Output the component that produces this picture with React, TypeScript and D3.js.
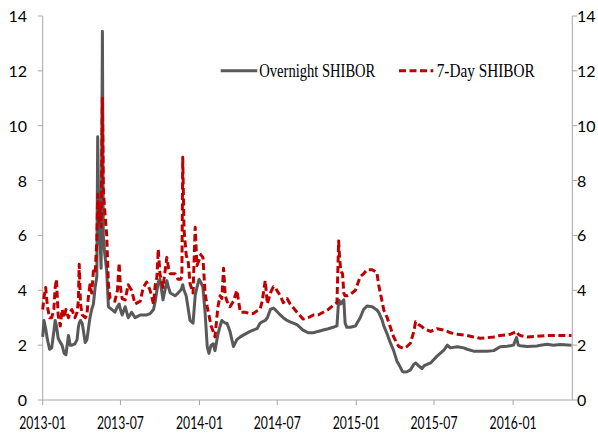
import React from "react";
import * as d3 from "d3";

const dates: string[] = [
  "2013-01-01","2013-01-04","2013-01-08","2013-01-12","2013-01-17","2013-01-22","2013-01-27","2013-01-30",
  "2013-02-02","2013-02-06","2013-02-11","2013-02-15","2013-02-20","2013-02-24","2013-03-02","2013-03-06",
  "2013-03-10","2013-03-17","2013-03-22","2013-03-25","2013-03-27","2013-03-30","2013-04-03","2013-04-10",
  "2013-04-14","2013-04-17","2013-04-21","2013-04-25","2013-04-29","2013-05-03","2013-05-07","2013-05-09",
  "2013-05-12","2013-05-15","2013-05-17","2013-05-20","2013-05-22","2013-05-25","2013-05-30","2013-06-03",
  "2013-06-07","2013-06-11","2013-06-18","2013-06-24","2013-06-28","2013-07-01","2013-07-05","2013-07-12",
  "2013-07-19","2013-07-27","2013-08-04","2013-08-10","2013-08-16","2013-08-23","2013-08-31","2013-09-08",
  "2013-09-16","2013-09-20","2013-09-24","2013-09-27","2013-10-01","2013-10-08","2013-10-17","2013-10-21",
  "2013-10-25","2013-11-05","2013-11-12","2013-11-18","2013-11-21","2013-11-23","2013-11-26","2013-12-01",
  "2013-12-06","2013-12-10","2013-12-17","2013-12-22","2013-12-26","2013-12-31","2014-01-04","2014-01-09",
  "2014-01-14","2014-01-19","2014-01-23","2014-01-28","2014-02-02","2014-02-06","2014-02-13","2014-02-18",
  "2014-02-22","2014-02-26","2014-03-02","2014-03-06","2014-03-13","2014-03-21","2014-03-29","2014-04-06",
  "2014-04-17","2014-04-29","2014-05-06","2014-05-15","2014-05-22","2014-05-27","2014-06-03","2014-06-08",
  "2014-06-15","2014-06-22","2014-06-26","2014-07-08","2014-07-15","2014-07-24","2014-07-31","2014-08-16",
  "2014-08-30","2014-09-11","2014-09-23","2014-10-04","2014-10-16","2014-10-28","2014-11-08","2014-11-17",
  "2014-11-21","2014-11-23","2014-11-26","2014-11-30","2014-12-03","2014-12-06","2014-12-10","2014-12-18",
  "2014-12-30","2015-01-10","2015-01-18","2015-01-26","2015-02-07","2015-02-18","2015-02-22","2015-03-02",
  "2015-03-06","2015-03-14","2015-03-21","2015-03-29","2015-04-06","2015-04-10","2015-04-18","2015-04-21",
  "2015-04-29","2015-05-07","2015-05-15","2015-05-19","2015-05-26","2015-06-03","2015-06-08","2015-06-23",
  "2015-07-08","2015-07-24","2015-08-01","2015-08-08","2015-08-24","2015-09-08","2015-09-16","2015-10-01",
  "2015-10-17","2015-11-01","2015-11-17","2015-12-02","2015-12-18","2015-12-26","2016-01-02","2016-01-09",
  "2016-01-13","2016-01-18","2016-02-03","2016-02-26","2016-03-05","2016-03-20","2016-04-04","2016-04-20",
  "2016-05-16"
];

const overnight: number[] = [
  2.3,2.9,2.6,2.2,1.85,1.9,2.5,2.9,
  2.7,2.25,2.1,2.0,1.7,1.65,2.35,2.0,
  2.0,2.05,2.2,2.65,2.8,2.9,2.8,2.1,
  2.2,2.55,3.0,3.3,3.5,4.1,4.5,9.6,
  6.3,5.6,4.8,13.44,6.0,5.4,4.7,3.4,
  3.35,3.3,3.2,3.4,3.5,3.3,3.1,3.4,
  3.0,3.2,3.0,3.05,3.1,3.1,3.1,3.15,
  3.3,3.6,4.0,4.3,4.4,3.65,4.35,4.1,
  3.9,3.8,3.9,4.0,4.1,4.2,4.0,3.8,
  3.3,2.9,2.8,3.8,4.1,4.4,4.3,4.1,
  3.2,1.95,1.7,2.0,2.05,1.8,2.4,2.7,
  2.9,2.85,2.8,2.8,2.5,1.95,2.2,2.3,
  2.4,2.5,2.55,2.6,2.8,2.85,2.9,3.0,
  3.3,3.35,3.3,3.1,3.0,2.9,2.85,2.75,
  2.55,2.45,2.45,2.5,2.55,2.6,2.65,2.7,
  3.65,3.6,3.5,3.6,3.65,2.8,2.65,2.65,
  2.7,3.0,3.3,3.43,3.4,3.28,3.2,2.92,
  2.7,2.4,2.1,1.8,1.4,1.3,1.05,1.02,
  1.03,1.1,1.3,1.35,1.25,1.15,1.25,1.35,
  1.6,1.82,2.0,1.9,1.94,1.9,1.85,1.78,
  1.78,1.78,1.8,1.94,1.96,1.98,2.0,2.28,
  2.0,1.98,1.95,1.97,2.0,2.03,2.0,2.02,
  2.0
];

const sevenDay: number[] = [
  3.3,3.75,4.1,3.4,3.0,3.0,3.3,4.1,
  4.4,3.1,2.7,3.3,3.0,3.3,3.0,3.2,
  3.3,3.0,3.2,3.6,4.95,3.5,3.1,3.0,
  3.1,3.7,4.2,3.9,4.7,4.6,5.8,7.5,
  6.5,7.2,6.3,11.0,7.7,7.0,6.0,4.2,
  3.7,3.65,3.6,4.0,5.0,4.1,3.7,3.65,
  4.2,4.0,3.5,3.55,3.6,4.1,4.3,4.0,
  3.5,4.2,4.5,5.5,4.6,4.1,5.2,4.8,
  4.6,4.6,4.4,4.4,4.5,8.85,6.2,5.3,
  5.0,4.25,3.9,6.3,4.9,5.1,5.3,5.2,
  3.9,3.4,3.1,2.7,2.5,2.3,3.4,3.8,
  3.7,4.8,3.8,3.6,3.4,3.6,4.0,3.2,
  3.2,3.15,3.15,3.25,3.3,3.6,4.35,3.5,
  3.9,4.13,4.1,3.8,3.55,3.7,3.5,3.2,
  2.95,3.0,3.1,3.1,3.2,3.3,3.45,3.55,
  5.8,5.2,4.7,4.6,3.9,3.8,3.8,3.85,
  4.0,4.5,4.6,4.75,4.75,4.65,4.2,3.6,
  3.28,3.0,2.67,2.3,2.05,1.95,1.9,1.88,
  1.95,2.07,2.5,2.85,2.75,2.67,2.6,2.5,
  2.6,2.55,2.5,2.45,2.4,2.37,2.35,2.3,
  2.25,2.27,2.3,2.35,2.38,2.4,2.45,2.5,
  2.4,2.35,2.3,2.32,2.33,2.35,2.35,2.35,
  2.35
];

const yTicks: number[] = [0, 2, 4, 6, 8, 10, 12, 14];
const xTickLabels: string[] = ["2013-01", "2013-07", "2014-01", "2014-07", "2015-01", "2015-07", "2016-01"];
const seriesNames: string[] = ["Overnight SHIBOR", "7-Day SHIBOR"];

const parse = d3.timeParse("%Y-%m-%d");
const parseMonth = d3.timeParse("%Y-%m");

export default function App() {
  const W = 598, H = 433;
  const left = 42.7, right = 571.5, top = 16, bottom = 400;
  const x = d3.scaleTime().domain([parse("2013-01-01")!, parse("2016-05-16")!]).range([left, right]);
  const y = d3.scaleLinear().domain([0, 14]).range([bottom, top]);
  const pts = dates.map((d, i) => ({ d: parse(d)!, on: overnight[i], sd: sevenDay[i] }));
  const lineOn = d3.line<any>().x(p => x(p.d)).y(p => y(p.on));
  const lineSd = d3.line<any>().x(p => x(p.d)).y(p => y(p.sd));
  const axisColor = "#a6a6a6";
  const grey = "#595959";
  const red = "#c00000";
  const axRight = 572.3;
  const labelFont = "Lato, 'Open Sans', sans-serif";
  return (
    <svg width={W} height={H} style={{ position: "absolute", left: 0, top: 0, background: "#fff" }}>
      <line x1={left} x2={left} y1={top} y2={bottom} stroke={axisColor} strokeWidth={1} />
      <line x1={axRight} x2={axRight} y1={top} y2={bottom} stroke={axisColor} strokeWidth={1} />
      <line x1={left} x2={axRight} y1={bottom} y2={bottom} stroke={axisColor} strokeWidth={1} />
      {yTicks.map(t => (
        <g key={"y" + t}>
          <line x1={left - 5} x2={left} y1={y(t)} y2={y(t)} stroke={axisColor} />
          <line x1={axRight} x2={axRight + 5} y1={y(t)} y2={y(t)} stroke={axisColor} />
          <text x={27} y={y(t) + 6} textAnchor="end" fontFamily={labelFont} fontSize={16} fill="#000">{t}</text>
          <text x={577} y={y(t) + 6} textAnchor="start" fontFamily={labelFont} fontSize={16} fill="#000">{t}</text>
        </g>
      ))}
      {xTickLabels.map(l => {
        const xx = x(parseMonth(l)!);
        return (
          <g key={l}>
            <line x1={xx} x2={xx} y1={bottom} y2={bottom + 5} stroke={axisColor} />
            <text x={xx} y={428.5} textAnchor="middle" fontFamily={labelFont} fontSize={17}
              textLength={47} lengthAdjust="spacingAndGlyphs" fill="#000">{l}</text>
          </g>
        );
      })}
      <path d={lineOn(pts) || ""} fill="none" stroke={grey} strokeWidth={3} strokeLinejoin="round" />
      <path d={lineSd(pts) || ""} fill="none" stroke={red} strokeWidth={3} strokeDasharray="7,3.5" strokeLinejoin="round" />
      <line x1={220.7} x2={257.3} y1={70.7} y2={70.7} stroke={grey} strokeWidth={3} />
      <text x={259.3} y={77.3} fontFamily="'Liberation Serif', 'Times New Roman', serif" fontSize={18}
        textLength={116} lengthAdjust="spacingAndGlyphs" fill="#000">{seriesNames[0]}</text>
      <line x1={399} x2={433.3} y1={70.7} y2={70.7} stroke={red} strokeWidth={3} strokeDasharray="7,3.5" />
      <text x={436.7} y={77.3} fontFamily="'Liberation Serif', 'Times New Roman', serif" fontSize={18}
        textLength={98} lengthAdjust="spacingAndGlyphs" fill="#000">{seriesNames[1]}</text>
    </svg>
  );
}
